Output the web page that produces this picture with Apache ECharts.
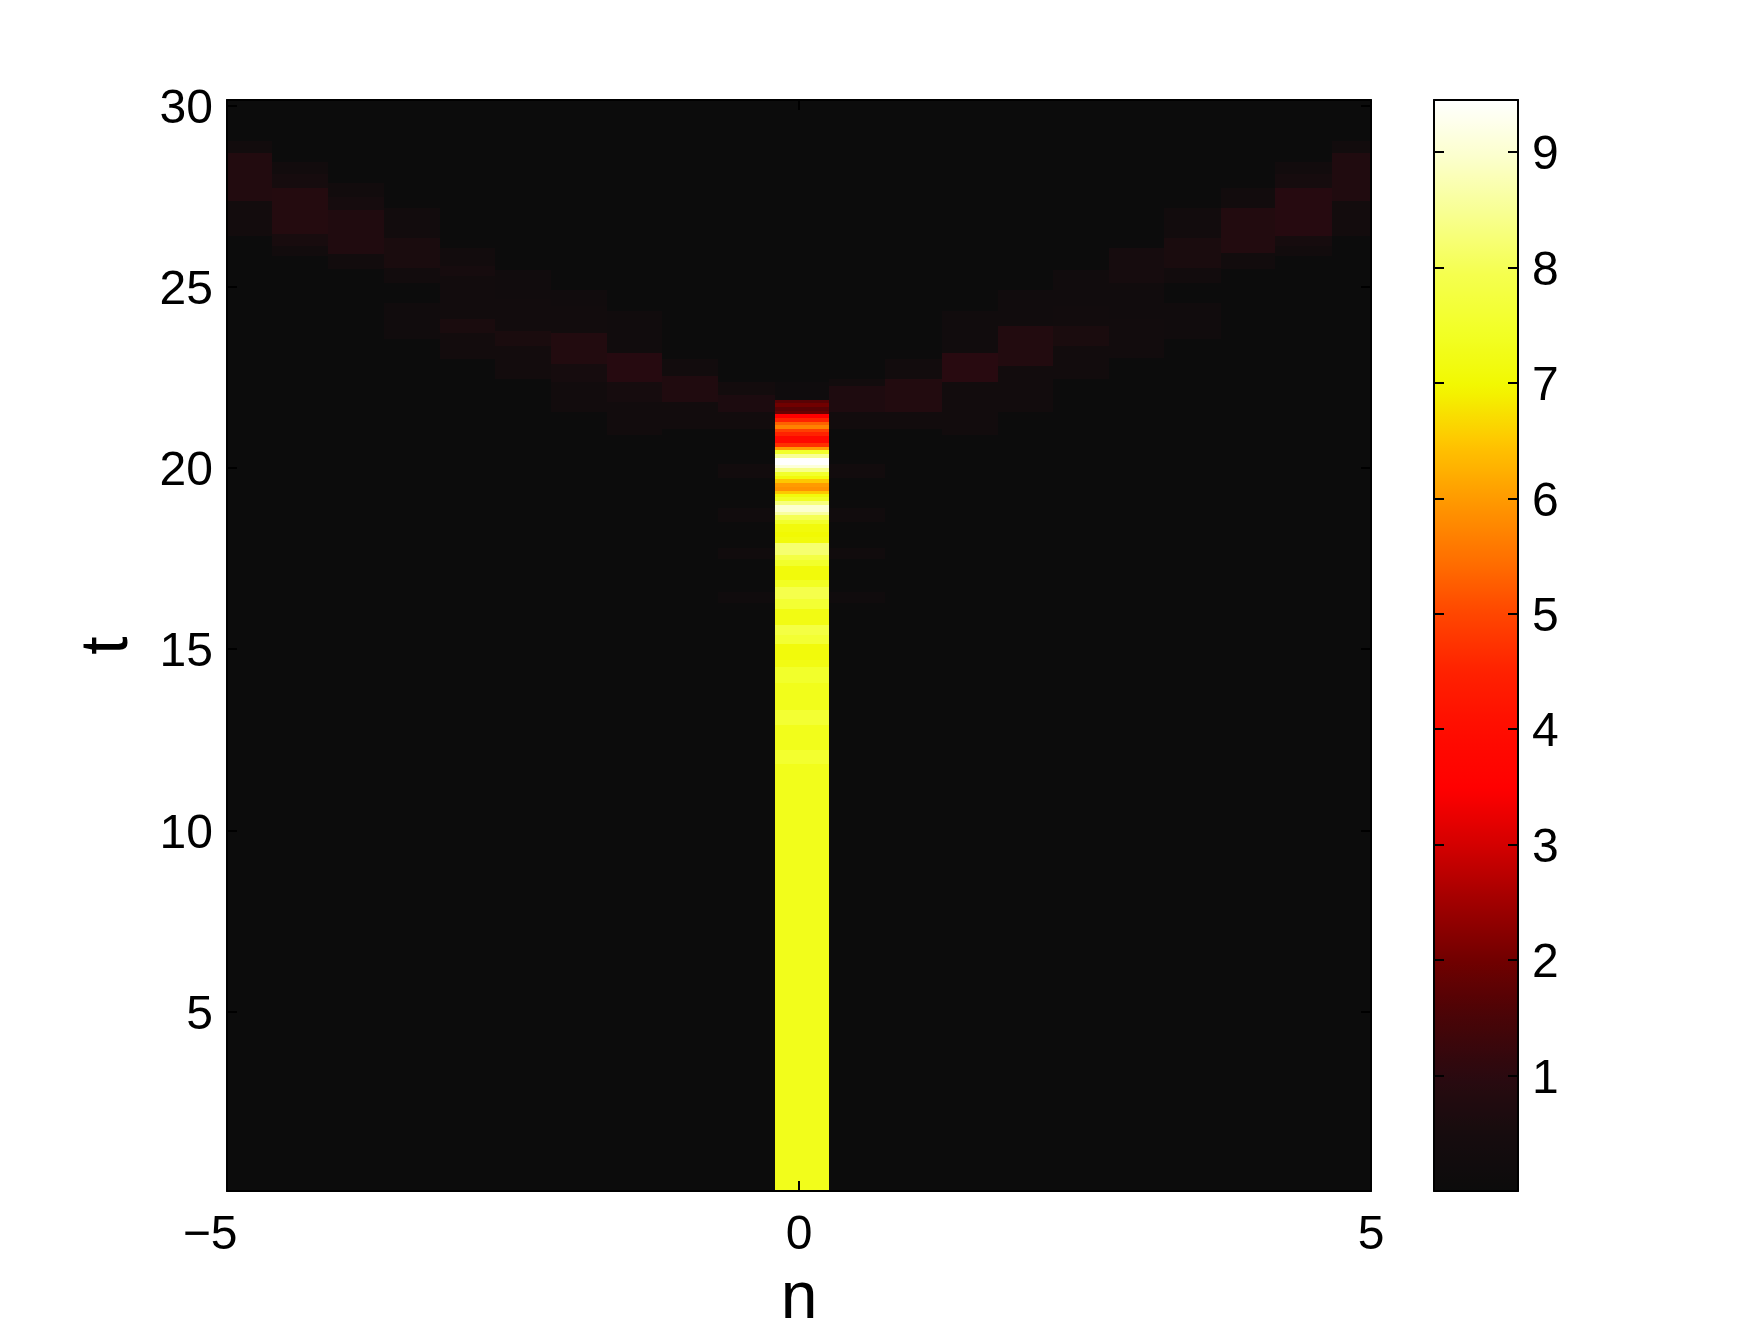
<!DOCTYPE html>
<html><head><meta charset="utf-8">
<script src="https://cdn.jsdelivr.net/npm/echarts@6/dist/echarts.min.js"></script>
<style>html,body{margin:0;padding:0;background:#fff}#c{width:1754px;height:1342px}</style>
</head><body><div id="c"></div><script>
// ---- data ----
// column (site) boundaries along n
const nEdges = [-5.10, -4.608, -4.117, -3.630, -3.140, -2.655, -2.170, -1.680, -1.195, -0.707, -0.214,
                0.263, 0.754, 1.246, 1.738, 2.217, 2.709, 3.194, 3.686, 4.164, 4.656, 5.15];
const centerIndex = 10;
const tLimits = [0.05, 30.15];
const backgroundLevel = 0.02;
// central site: [t start, t end, value]
const centerColumn = [
  [0, 11.82, 7.30], [11.82, 12.23, 7.55], [12.23, 12.92, 7.30], [12.92, 13.33, 7.60],
  [13.33, 14.07, 7.30], [14.07, 14.52, 7.50], [14.52, 14.70, 7.20], [14.70, 15.15, 7.10],
  [15.15, 15.38, 7.60], [15.38, 15.67, 7.80], [15.67, 16.11, 7.20], [16.11, 16.38, 7.60],
  [16.38, 16.71, 7.90], [16.71, 16.92, 7.40], [16.92, 17.28, 7.10], [17.28, 17.46, 7.50],
  [17.46, 17.60, 7.80], [17.60, 17.92, 8.20], [17.92, 18.10, 7.10], [18.10, 18.24, 7.00],
  [18.24, 18.44, 7.10], [18.44, 18.57, 7.50], [18.57, 18.69, 8.00], [18.69, 18.78, 8.60],
  [18.78, 18.99, 9.00], [18.99, 19.08, 8.30], [19.08, 19.19, 7.40], [19.19, 19.28, 7.10],
  [19.28, 19.37, 6.50], [19.37, 19.48, 5.90], [19.48, 19.59, 6.00], [19.59, 19.68, 6.50],
  [19.68, 19.79, 7.10], [19.79, 19.90, 7.50], [19.90, 19.99, 8.40], [19.99, 20.08, 9.10],
  [20.08, 20.28, 9.45], [20.28, 20.38, 8.50], [20.38, 20.48, 7.50], [20.48, 20.58, 6.00],
  [20.58, 20.69, 4.70], [20.69, 20.87, 3.80], [20.87, 20.99, 4.50], [20.99, 21.06, 4.90],
  [21.06, 21.17, 5.70], [21.17, 21.26, 5.30], [21.26, 21.37, 4.50], [21.37, 21.48, 3.50],
  [21.48, 21.57, 1.90], [21.57, 21.67, 1.70], [21.67, 21.79, 2.00], [21.79, 21.88, 1.70],
  [21.88, 22.38, 0.15]
];
// other sites: [column index, t start, t end, value]
const sideCells = [
  [0, 26.40, 27.35, 0.35], [0, 27.35, 28.68, 0.80], [0, 28.68, 29.03, 0.30],
  [1, 25.84, 26.12, 0.30], [1, 26.12, 26.44, 0.55], [1, 26.44, 27.72, 0.85], [1, 27.72, 28.12, 0.50], [1, 28.12, 28.45, 0.30],
  [2, 25.49, 25.89, 0.30], [2, 25.89, 27.12, 0.75], [2, 27.12, 27.48, 0.50], [2, 27.48, 27.86, 0.30],
  [3, 23.55, 24.55, 0.25], [3, 25.10, 25.52, 0.30], [3, 25.52, 26.34, 0.60], [3, 26.34, 27.17, 0.30],
  [4, 23.00, 23.73, 0.35], [4, 23.73, 24.10, 0.60], [4, 24.10, 25.29, 0.30], [4, 25.29, 25.57, 0.50], [4, 25.57, 26.07, 0.30],
  [5, 22.45, 23.36, 0.35], [5, 23.36, 23.78, 0.60], [5, 23.78, 24.66, 0.30], [5, 24.66, 25.47, 0.25],
  [6, 21.54, 22.36, 0.30], [6, 22.36, 22.86, 0.50], [6, 22.86, 23.73, 0.80], [6, 23.73, 24.46, 0.30], [6, 24.46, 24.92, 0.25],
  [7, 20.90, 21.81, 0.30], [7, 21.81, 22.36, 0.50], [7, 22.36, 23.18, 0.90], [7, 23.18, 24.33, 0.25],
  [8, 21.08, 21.81, 0.30], [8, 21.81, 22.54, 0.75], [8, 22.54, 23.00, 0.30],
  [9, 21.08, 21.54, 0.30], [9, 21.54, 22.00, 0.65], [9, 22.00, 22.36, 0.35],
  [9, 19.72, 20.12, 0.30], [9, 18.50, 18.90, 0.25], [9, 17.48, 17.80, 0.25], [9, 16.27, 16.57, 0.20],
  [11, 19.72, 20.12, 0.30], [11, 18.50, 18.90, 0.25], [11, 17.48, 17.80, 0.25], [11, 16.27, 16.57, 0.20],
  [11, 21.08, 21.54, 0.30], [11, 21.54, 22.27, 0.70], [11, 22.27, 22.45, 0.30],
  [12, 21.08, 21.54, 0.30], [12, 21.54, 22.45, 0.80], [12, 22.45, 23.01, 0.30],
  [13, 20.90, 22.36, 0.30], [13, 22.36, 23.18, 0.95], [13, 23.18, 24.33, 0.25],
  [14, 21.54, 22.82, 0.30], [14, 22.82, 23.91, 0.80], [14, 23.91, 24.92, 0.25],
  [15, 22.45, 23.36, 0.30], [15, 23.36, 23.91, 0.60], [15, 23.91, 24.46, 0.30], [15, 24.46, 25.47, 0.25],
  [16, 23.03, 24.10, 0.30], [16, 24.10, 25.10, 0.25], [16, 25.10, 26.07, 0.50],
  [17, 23.55, 24.55, 0.25], [17, 25.10, 25.52, 0.30], [17, 25.52, 26.34, 0.60], [17, 26.34, 27.17, 0.30],
  [18, 25.49, 25.93, 0.30], [18, 25.93, 27.17, 0.80], [18, 27.17, 27.72, 0.30],
  [19, 25.84, 26.12, 0.30], [19, 26.12, 26.39, 0.50], [19, 26.39, 27.72, 0.90], [19, 27.72, 28.12, 0.50], [19, 28.12, 28.45, 0.30],
  [20, 26.40, 27.35, 0.35], [20, 27.35, 28.68, 0.75], [20, 28.68, 29.03, 0.30]
];
const xTicks = [-5, 0, 5];
const yTicks = [5, 10, 15, 20, 25, 30];
const cbRange = [0, 9.45];
const cbTicks = [1, 2, 3, 4, 5, 6, 7, 8, 9];

// ---- colour map (evenly spaced over cbRange) ----
const colormap = ['#0c0c0c', '#160c0e', '#2a0a10', '#480407', '#700000', '#a00000', '#d20000', '#ff0000',
  '#ff0c00', '#ff2000', '#ff4400', '#ff7000', '#ff9800', '#ffc400', '#f2f800', '#f2ff28', '#f5ff50',
  '#f8ff90', '#fcffcc', '#ffffff'];

// ---- build cells ----
const cells = [];
for (let c = 0; c < nEdges.length - 1; c++) cells.push([nEdges[c], nEdges[c + 1], 0, 31, backgroundLevel]);
centerColumn.forEach(s => cells.push([nEdges[centerIndex], nEdges[centerIndex + 1], s[0], s[1], s[2]]));
sideCells.forEach(s => cells.push([nEdges[s[0]], nEdges[s[0] + 1], s[1], s[2], s[3]]));

const FONT = 'Liberation Sans, Arial, Helvetica, sans-serif';
const black = '#000';
const line = { show: true, onZero: false, lineStyle: { color: black, width: 2 } };
function ticks(vals) {
  const t = { show: true, inside: true, length: 10, lineStyle: { color: black, width: 2 } };
  if (vals) t.customValues = vals;
  return t;
}
const fmt = v => (v < 0 ? '{neg|\u2212' + Math.abs(v) + '}' : String(v));
const fmtLow = v => '{low|' + v + '}';
const lowRich = { low: { fontSize: 48, color: black, fontFamily: FONT, padding: [8, 0, 0, 0] } };

function renderItem(params, api) {
  const a = api.coord([api.value(0), api.value(3)]);
  const b = api.coord([api.value(1), api.value(2)]);
  const cs = params.coordSys;
  const x0 = Math.max(Math.round(a[0]), Math.round(cs.x));
  const x1 = Math.min(Math.round(b[0]), Math.round(cs.x + cs.width));
  const y0 = Math.max(Math.round(a[1]), Math.round(cs.y));
  const y1 = Math.min(Math.round(b[1]), Math.round(cs.y + cs.height));
  if (x1 <= x0 || y1 <= y0) return null;
  return { type: 'rect', shape: { x: x0, y: y0, width: x1 - x0, height: y1 - y0 }, style: { fill: api.visual('color') } };
}

const chart = echarts.init(document.getElementById('c'), null, { renderer: 'canvas' });
chart.setOption({
  animation: false,
  backgroundColor: '#fff',
  textStyle: { fontFamily: FONT },
  grid: [
    { left: 227, top: 100, width: 1144, height: 1091 },
    { left: 1434, top: 100, width: 84, height: 1091 }
  ],
  xAxis: [
    { gridIndex: 0, type: 'value', min: -5, max: 5, interval: 5, position: 'bottom', z: 10,
      axisLine: line, axisTick: ticks(xTicks), splitLine: { show: false },
      axisLabel: { customValues: xTicks, fontSize: 48, color: black, fontFamily: FONT, margin: 21, formatter: fmt,
        rich: { neg: { fontSize: 48, color: black, fontFamily: FONT, padding: [0, 34, 0, 0] } } },
      name: 'n', nameLocation: 'middle', nameGap: 76,
      nameTextStyle: { fontSize: 66, color: black, fontFamily: FONT } },
    { gridIndex: 0, type: 'value', min: -5, max: 5, interval: 5, position: 'top', z: 10,
      axisLine: line, axisTick: ticks(xTicks), axisLabel: { show: false }, splitLine: { show: false } },
    { gridIndex: 1, type: 'value', min: 0, max: 1, position: 'bottom', z: 10,
      axisLine: line, axisTick: { show: false }, axisLabel: { show: false }, splitLine: { show: false } },
    { gridIndex: 1, type: 'value', min: 0, max: 1, position: 'top', z: 10,
      axisLine: line, axisTick: { show: false }, axisLabel: { show: false }, splitLine: { show: false } }
  ],
  yAxis: [
    { gridIndex: 0, type: 'value', min: tLimits[0], max: tLimits[1], position: 'left', z: 10,
      axisLine: line, axisTick: ticks(yTicks), splitLine: { show: false },
      axisLabel: { customValues: yTicks, fontSize: 48, color: black, fontFamily: FONT, margin: 14,
        formatter: fmtLow, rich: lowRich },
      name: 't', nameLocation: 'middle', nameGap: 85, nameRotate: 90,
      nameTextStyle: { fontSize: 66, color: black, fontFamily: FONT } },
    { gridIndex: 0, type: 'value', min: tLimits[0], max: tLimits[1], position: 'right', z: 10,
      axisLine: line, axisTick: ticks(yTicks), axisLabel: { show: false }, splitLine: { show: false } },
    { gridIndex: 1, type: 'value', min: cbRange[0], max: cbRange[1], position: 'left', z: 10,
      axisLine: line, axisTick: ticks(cbTicks), axisLabel: { show: false }, splitLine: { show: false } },
    { gridIndex: 1, type: 'value', min: cbRange[0], max: cbRange[1], position: 'right', z: 10,
      axisLine: line, axisTick: ticks(cbTicks), splitLine: { show: false },
      axisLabel: { customValues: cbTicks, fontSize: 48, color: black, fontFamily: FONT, margin: 14,
        formatter: fmtLow, rich: lowRich } }
  ],
  visualMap: {
    type: 'continuous', min: cbRange[0], max: cbRange[1], dimension: 4, seriesIndex: 0,
    orient: 'vertical', left: 1434, top: 100, itemWidth: 84, itemHeight: 1091, padding: 0,
    calculable: false, hoverLink: false, show: true,
    inRange: { color: colormap }
  },
  series: [{
    type: 'custom', xAxisIndex: 0, yAxisIndex: 0,
    dimensions: ['n0', 'n1', 't0', 't1', 'value'],
    encode: { x: [0, 1], y: [2, 3] },
    renderItem: renderItem,
    data: cells
  }]
});
</script></body></html>
